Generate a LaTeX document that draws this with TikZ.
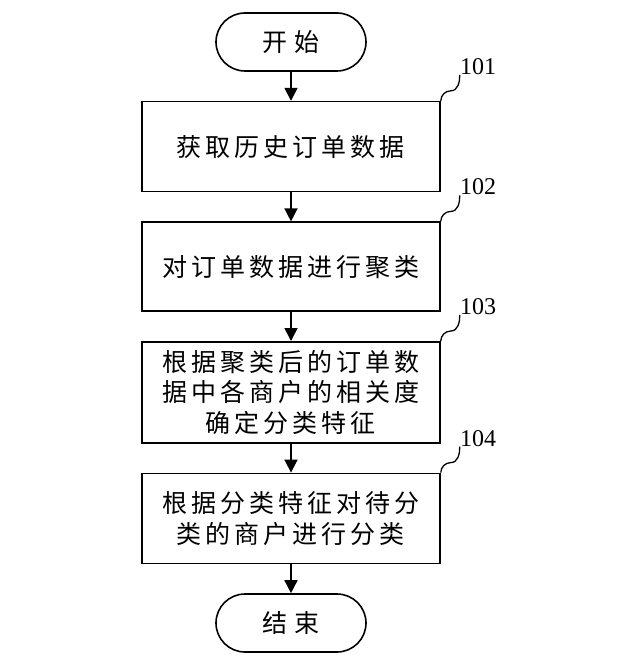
\documentclass[tikz,border=0pt]{standalone}
\usepackage{fontspec}
\setmainfont{Liberation Serif}
\newfontfamily\cjk[LetterSpace=16]{Noto Sans CJK SC}
\usetikzlibrary{shapes,arrows.meta,positioning}

\begin{document}
\begin{tikzpicture}[x=1pt, y=1pt, node distance=29pt,
    every node/.style={font=\cjk\fontsize{25}{30.5}\selectfont},
    stepbox/.style={draw, rectangle, line width=1.6pt, minimum width=298pt, align=center, inner sep=2pt},
    terminal/.style={draw, rectangle, rounded corners=29pt, line width=1.6pt, minimum width=150pt, minimum height=58pt},
    flow/.style={-{Triangle[length=13pt,width=13pt]}, line width=1.6pt},
    tag/.style={font=\fontsize{24}{26}\selectfont, inner sep=0pt},
    lead/.style={line width=1.3pt}]
    \useasboundingbox (-291,42) rectangle (337,-619);

    % Steps
    \node[terminal] (start) at (0,0) {开\hspace{8pt}始};
    \node[stepbox, minimum height=90pt, below=of start] (get) {获取历史订单数据};
    \node[stepbox, minimum height=89pt, below=of get] (cluster) {对订单数据进行聚类};
    \node[stepbox, minimum height=101pt, below=of cluster] (feature) {根据聚类后的订单数\\据中各商户的相关度\\确定分类特征};
    \node[stepbox, minimum height=90pt, below=of feature] (classify) {根据分类特征对待分\\类的商户进行分类};
    \node[terminal, below=of classify] (stop) {结\hspace{8pt}束};

    \draw[flow] (start) -- (get);
    \draw[flow] (get) -- (cluster);
    \draw[flow] (cluster) -- (feature);
    \draw[flow] (feature) -- (classify);
    \draw[flow] (classify) -- (stop);

    % Step numbers
    \node[tag, above right=26pt and 19pt of get.north east] (tag-get) {101};
    \node[tag, above right=26pt and 19pt of cluster.north east] (tag-cluster) {102};
    \node[tag, above right=26pt and 19pt of feature.north east] (tag-feature) {103};
    \node[tag, above right=26pt and 19pt of classify.north east] (tag-classify) {104};

    \draw[lead] (get.north east) to[out=90, in=180] +(10,10) to[out=0, in=-90] (tag-get.south west);
    \draw[lead] (cluster.north east) to[out=90, in=180] +(10,10) to[out=0, in=-90] (tag-cluster.south west);
    \draw[lead] (feature.north east) to[out=90, in=180] +(10,10) to[out=0, in=-90] (tag-feature.south west);
    \draw[lead] (classify.north east) to[out=90, in=180] +(10,10) to[out=0, in=-90] (tag-classify.south west);
\end{tikzpicture}
\end{document}
